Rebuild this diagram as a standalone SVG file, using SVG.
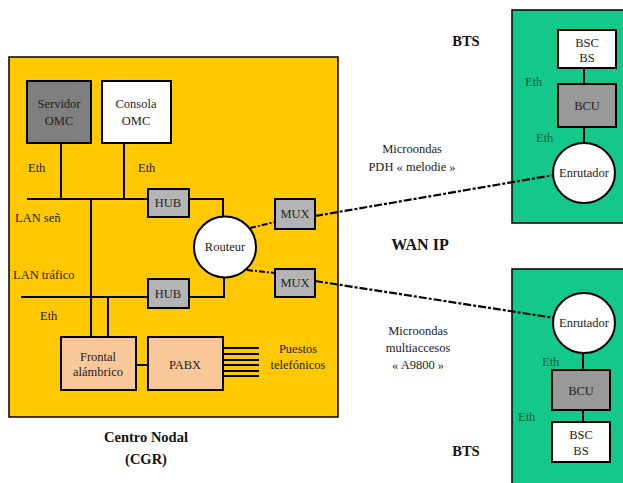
<svg xmlns="http://www.w3.org/2000/svg" width="623" height="483" viewBox="0 0 623 483" font-family="'Liberation Serif', 'DejaVu Serif', serif">
  <style>
    text { font-family: "Liberation Serif", "DejaVu Serif", serif; font-size: 12.5px; fill: #222; text-anchor: middle; }
    .lbl { text-anchor: start; }
    .g { fill: #0b5e3a; text-anchor: start; }
    .b { font-weight: bold; font-size: 14.5px; fill: #111; }
    .box { stroke: #000; stroke-width: 2; }
    .ln { stroke: #000; stroke-width: 2; fill: none; }
    .mw { stroke: #000; stroke-width: 2.2; fill: none; stroke-dasharray: 8 2 3 2; }
  </style>

  <rect width="623" height="483" fill="#fff"/>

  <!-- Centro nodal enclosure -->
  <g id="centro-nodal">
    <rect x="9" y="57" width="329" height="360" fill="#FFC800" stroke="#000" stroke-width="1.5"/>
    <text class="b" x="146" y="442">Centro Nodal</text>
    <text class="b" x="146" y="464">(CGR)</text>
  </g>

  <!-- BTS enclosures -->
  <g id="bts-top">
    <rect x="512" y="10" width="120" height="213" fill="#14C88C" stroke="#000" stroke-width="1.5"/>
    <text class="b" x="466" y="46">BTS</text>
  </g>
  <g id="bts-bottom">
    <rect x="512" y="269" width="120" height="230" fill="#14C88C" stroke="#000" stroke-width="1.5"/>
    <text class="b" x="466" y="456">BTS</text>
  </g>

  <!-- Connectors -->
  <g id="connectors">
    <!-- LAN señalización -->
    <path class="ln" d="M61 143V199M124 143V199M27 199H148M189 199H223V216M91 199V337"/>
    <!-- LAN tráfico -->
    <path class="ln" d="M21 297H148M189 297H224V278M108 297V337M136 365H148"/>
    <!-- router to MUX -->
    <path class="ln" d="M250 228L275 222M247 270L275 273" stroke-dasharray="6 2 2 2"/>
    <!-- telephone lines -->
    <path class="ln" stroke-width="1.6" d="M217 348H259M217 354H259M217 360H259M217 365H259M217 371H259M217 376H259"/>
    <!-- BTS internal -->
    <path class="ln" d="M584 68V84M584 127V143M583 353V370M583 410V422"/>
    <!-- microwave links -->
    <path class="mw" d="M315 216L554 175"/>
    <path class="mw" d="M315 281L555 318"/>
  </g>

  <!-- Centro nodal equipment -->
  <g id="servidor-omc">
    <rect class="box" x="27" y="81" width="64" height="62" fill="#7F7F7F"/>
    <text x="59" y="108">Servidor</text>
    <text x="59" y="125">OMC</text>
  </g>
  <g id="consola-omc">
    <rect class="box" x="102" y="81" width="69" height="62" fill="#fff"/>
    <text x="136" y="108">Consola</text>
    <text x="136" y="125">OMC</text>
  </g>
  <g id="hub-1">
    <rect class="box" x="148" y="189" width="41" height="28" fill="#B4B4B4"/>
    <text x="168" y="207">HUB</text>
  </g>
  <g id="hub-2">
    <rect class="box" x="148" y="279" width="41" height="29" fill="#B4B4B4"/>
    <text x="168" y="298">HUB</text>
  </g>
  <g id="routeur">
    <ellipse class="box" cx="225" cy="247" rx="31" ry="30.5" fill="#fff"/>
    <text x="225" y="251">Routeur</text>
  </g>
  <g id="mux-1">
    <rect class="box" x="275" y="199" width="40" height="30" fill="#B4B4B4"/>
    <text x="295" y="218">MUX</text>
  </g>
  <g id="mux-2">
    <rect class="box" x="275" y="269" width="40" height="28" fill="#B4B4B4"/>
    <text x="295" y="287">MUX</text>
  </g>
  <g id="frontal">
    <rect class="box" x="61" y="337" width="75" height="53" fill="#F8C898"/>
    <text x="98" y="361">Frontal</text>
    <text x="98" y="376">alámbrico</text>
  </g>
  <g id="pabx">
    <rect class="box" x="148" y="337" width="75" height="53" fill="#F8C898"/>
    <text x="185" y="369">PABX</text>
  </g>

  <!-- Centro nodal labels -->
  <g id="labels-cgr">
    <text class="lbl" x="28" y="172">Eth</text>
    <text class="lbl" x="138" y="172">Eth</text>
    <text class="lbl" x="15" y="222">LAN señ</text>
    <text class="lbl" x="13" y="279">LAN tráfico</text>
    <text class="lbl" x="40" y="320">Eth</text>
    <text x="298" y="353">Puestos</text>
    <text x="298" y="369">telefónicos</text>
  </g>

  <!-- WAN labels -->
  <g id="labels-wan">
    <text x="412" y="153">Microondas</text>
    <text x="412" y="171">PDH « melodie »</text>
    <text class="b" x="420" y="250" style="font-size:16px">WAN IP</text>
    <text x="418" y="335">Microondas</text>
    <text x="418" y="352">multiaccesos</text>
    <text x="418" y="369">« A9800 »</text>
  </g>

  <!-- BTS top equipment -->
  <g id="bsc-bs-top">
    <rect class="box" x="558" y="30" width="58" height="38" fill="#fff"/>
    <text x="587" y="47">BSC</text>
    <text x="587" y="62">BS</text>
  </g>
  <g id="bcu-top">
    <rect class="box" x="558" y="84" width="58" height="43" fill="#999"/>
    <text x="587" y="110">BCU</text>
  </g>
  <g id="enrutador-top">
    <ellipse class="box" cx="584" cy="173" rx="31" ry="30" fill="#fff"/>
    <text x="584" y="177">Enrutador</text>
  </g>
  <text class="g" x="525" y="86">Eth</text>
  <text class="g" x="536" y="142">Eth</text>

  <!-- BTS bottom equipment -->
  <g id="enrutador-bottom">
    <ellipse class="box" cx="584" cy="323" rx="31" ry="30" fill="#fff"/>
    <text x="584" y="327">Enrutador</text>
  </g>
  <g id="bcu-bottom">
    <rect class="box" x="552" y="370" width="58" height="40" fill="#999"/>
    <text x="581" y="395">BCU</text>
  </g>
  <g id="bsc-bs-bottom">
    <rect class="box" x="552" y="422" width="58" height="40" fill="#fff"/>
    <text x="581" y="439">BSC</text>
    <text x="581" y="455">BS</text>
  </g>
  <text class="g" x="542" y="366">Eth</text>
  <text class="g" x="518" y="421">Eth</text>
</svg>
